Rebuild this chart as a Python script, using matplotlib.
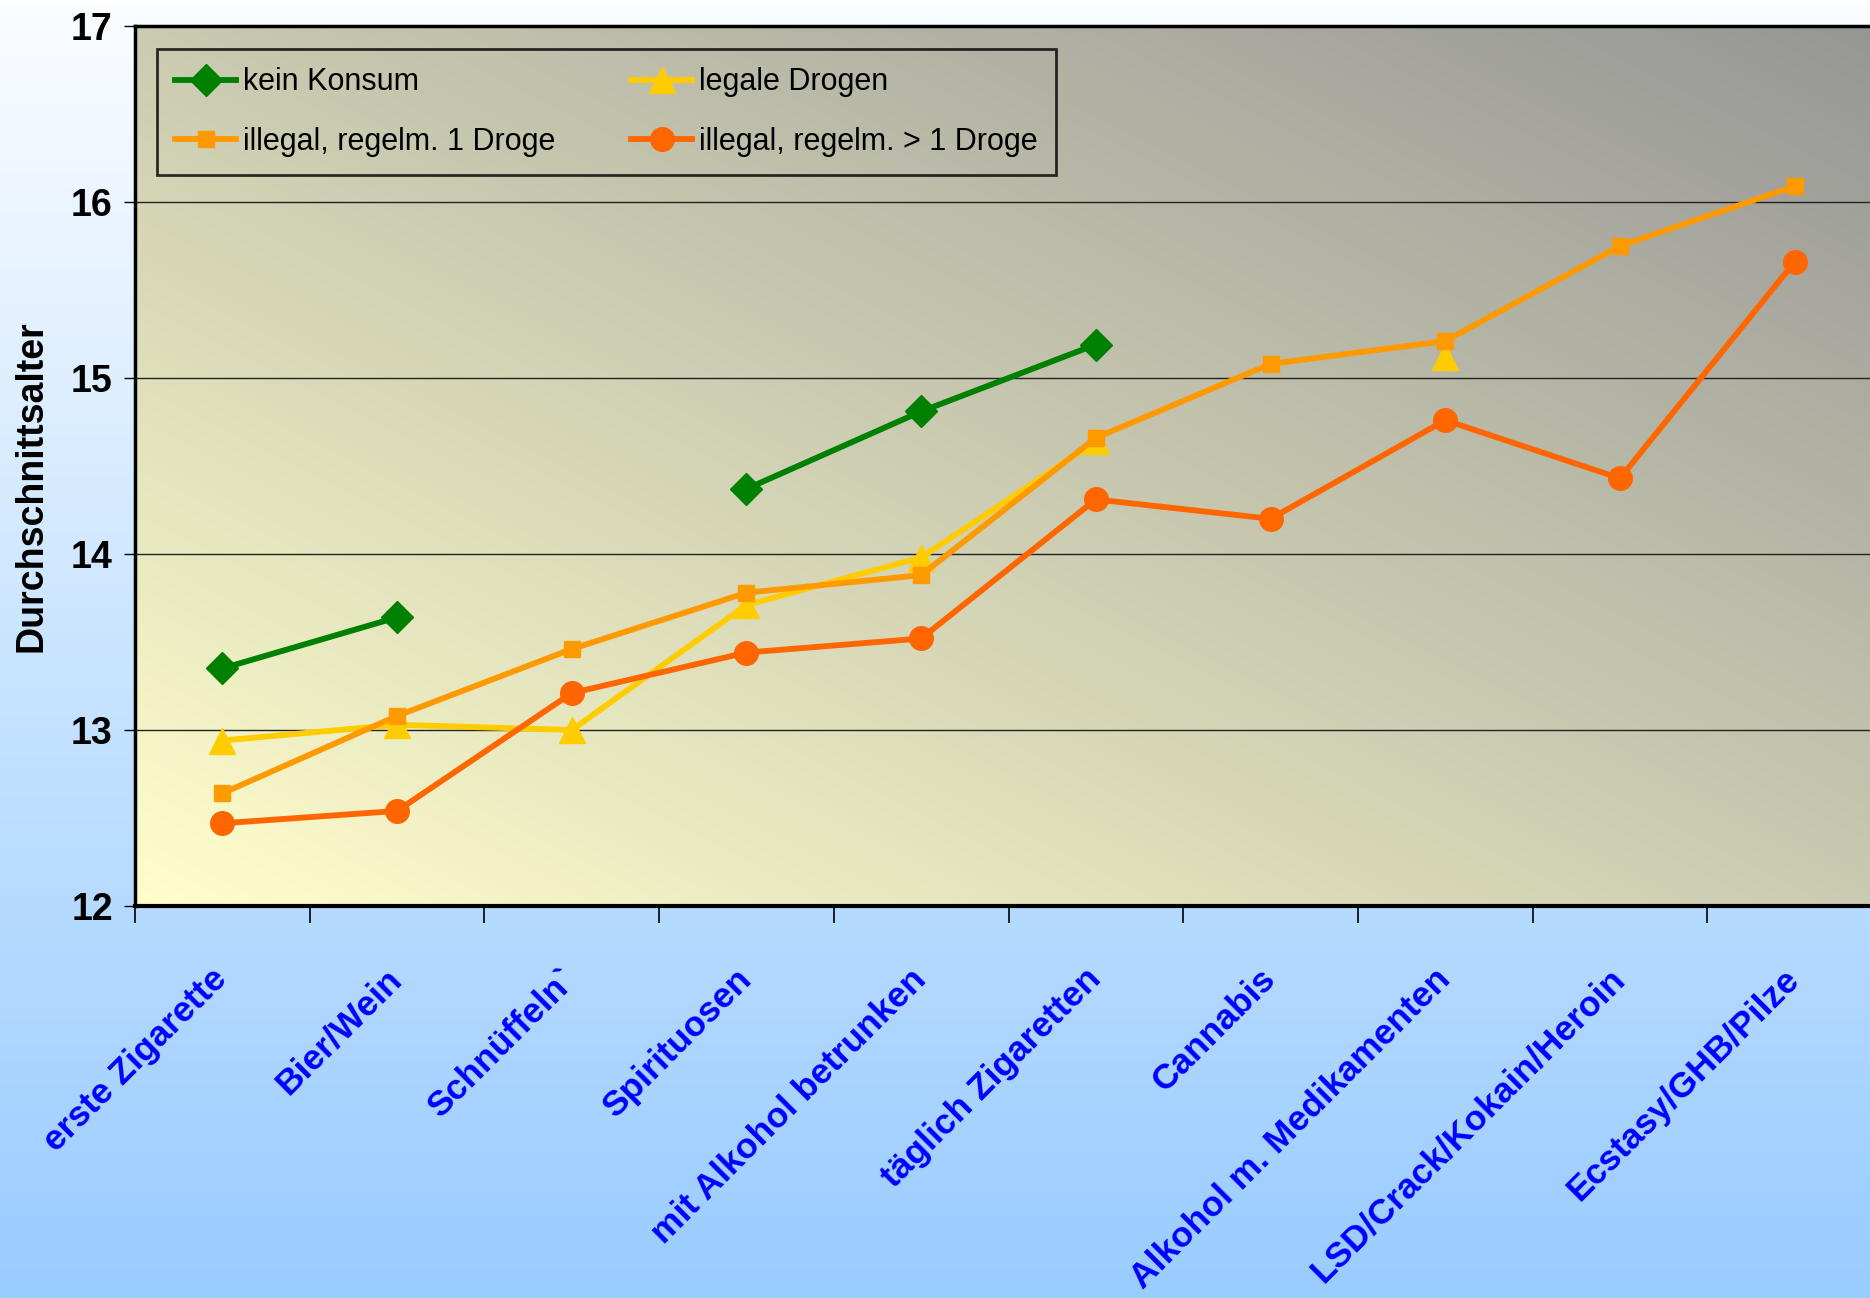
import numpy as np
import matplotlib
matplotlib.use('Agg')
import matplotlib.pyplot as plt
from matplotlib.colors import to_rgb

nan = np.nan

# Kategorien (x-Achse)
categories = ['erste Zigarette', 'Bier/Wein', 'Schnüffeln`', 'Spirituosen',
              'mit Alkohol betrunken', 'täglich Zigaretten', 'Cannabis',
              'Alkohol m. Medikamenten', 'LSD/Crack/Kokain/Heroin',
              'Ecstasy/GHB/Pilze']

# Durchschnittsalter je Gruppe
kein_konsum = [13.35, 13.64, nan, 14.37, 14.81, 15.19, nan, nan, nan, nan]
legale_drogen = [12.94, 13.03, 13.00, 13.71, 13.98, 14.64, nan, 15.12, nan, nan]
illegal_1 = [12.64, 13.08, 13.46, 13.78, 13.88, 14.66, 15.08, 15.21, 15.75, 16.09]
illegal_mehr = [12.47, 12.54, 13.21, 13.44, 13.52, 14.31, 14.20, 14.76, 14.43, 15.66]

series_names = ['kein Konsum', 'legale Drogen', 'illegal, regelm. 1 Droge',
                'illegal, regelm. > 1 Droge']

y_ticks = [12, 13, 14, 15, 16, 17]

W, H = 1870, 1298
fig = plt.figure(figsize=(W / 100, H / 100), dpi=100)

# hintergrund: vertikaler verlauf weiss -> hellblau
bg = fig.add_axes([0, 0, 1, 1], zorder=-3)
bg.axis('off')
c_top = np.array(to_rgb('#fbfdff'))
c_bot = np.array(to_rgb('#99ccff'))
t = np.linspace(0, 1, 256)[:, None, None]
bg.imshow(c_top + (c_bot - c_top) * t, aspect='auto', extent=[0, 1, 0, 1])

# plotbereich in pixeln
left, right, top, bottom = 135, 1882, 26, 906
pos = [left / W, 1 - bottom / H, (right - left) / W, (bottom - top) / H]

# plotflaeche: diagonaler verlauf gelb -> grau
pa = fig.add_axes(pos, zorder=-2)
pa.axis('off')
xs = np.linspace(0, 1, 300)
ys = np.linspace(0, 1, 300)
X, Y = np.meshgrid(xs, ys)
tt = ((X + Y) / 2)[..., None]
c0 = np.array(to_rgb('#ffffcc'))
c1 = np.array(to_rgb('#969696'))
pa.imshow(c0 + (c1 - c0) * tt, aspect='auto', origin='lower', extent=[0, 1, 0, 1])

ax = fig.add_axes(pos)
ax.set_facecolor('none')

x = np.arange(len(categories))
lw = 4.2
h1, = ax.plot(x, kein_konsum, color='#008000', lw=lw, marker='D', ms=16, label=series_names[0])
h2, = ax.plot(x, legale_drogen, color='#ffcc00', lw=lw, marker='^', ms=19, label=series_names[1])
h3, = ax.plot(x, illegal_1, color='#ff9900', lw=lw, marker='s', ms=12, label=series_names[2])
h4, = ax.plot(x, illegal_mehr, color='#ff6600', lw=lw, marker='o', ms=17, label=series_names[3])

ax.set_xlim(-0.5, 9.5)
ax.set_ylim(12, 17)

arial = ['Liberation Sans', 'DejaVu Sans']

ax.set_yticks(y_ticks)
ax.set_yticklabels([str(v) for v in y_ticks], fontsize=27, fontweight='bold', family=arial)
ax.tick_params(axis='y', length=8, width=1, pad=8)
ax.yaxis.grid(True, color='#222222', lw=1)
ax.set_axisbelow(True)

ax.set_xticks(np.arange(-0.5, 10, 1))
ax.set_xticklabels([])
ax.tick_params(axis='x', which='major', length=12, width=1.2, direction='out')
ax.set_xticks(x, minor=True)
ax.set_xticklabels(categories, minor=True, rotation=45, ha='right', va='center',
                   rotation_mode='anchor', color='#0000ff', fontsize=25.5,
                   fontweight='bold', family=arial)
ax.tick_params(axis='x', which='minor', length=0, pad=49)

for s in ['left', 'bottom', 'top']:
    ax.spines[s].set_linewidth(2.5)
    ax.spines[s].set_color('black')
ax.spines['bottom'].set_linewidth(3)
ax.spines['right'].set_visible(False)

fig.text(32 / W, 1 - 486 / H, 'Durchschnittsalter', rotation=90, ha='center',
         va='center', fontsize=27, fontweight='bold', family=arial)

# zeilenweise reihenfolge wie im original
leg = ax.legend([h1, h3, h2, h4], [series_names[0], series_names[2], series_names[1], series_names[3]],
                ncol=2, loc='upper left', bbox_to_anchor=(0.0126, 0.974),
                borderaxespad=0, prop={'family': arial, 'size': 22},
                handlelength=2.0, handletextpad=0.2, columnspacing=2.5,
                labelspacing=0.98, borderpad=0.6, frameon=True, fancybox=False)
leg.get_frame().set_facecolor('none')
leg.get_frame().set_edgecolor('black')
leg.get_frame().set_linewidth(2)

fig.savefig('out.png', dpi=100)
